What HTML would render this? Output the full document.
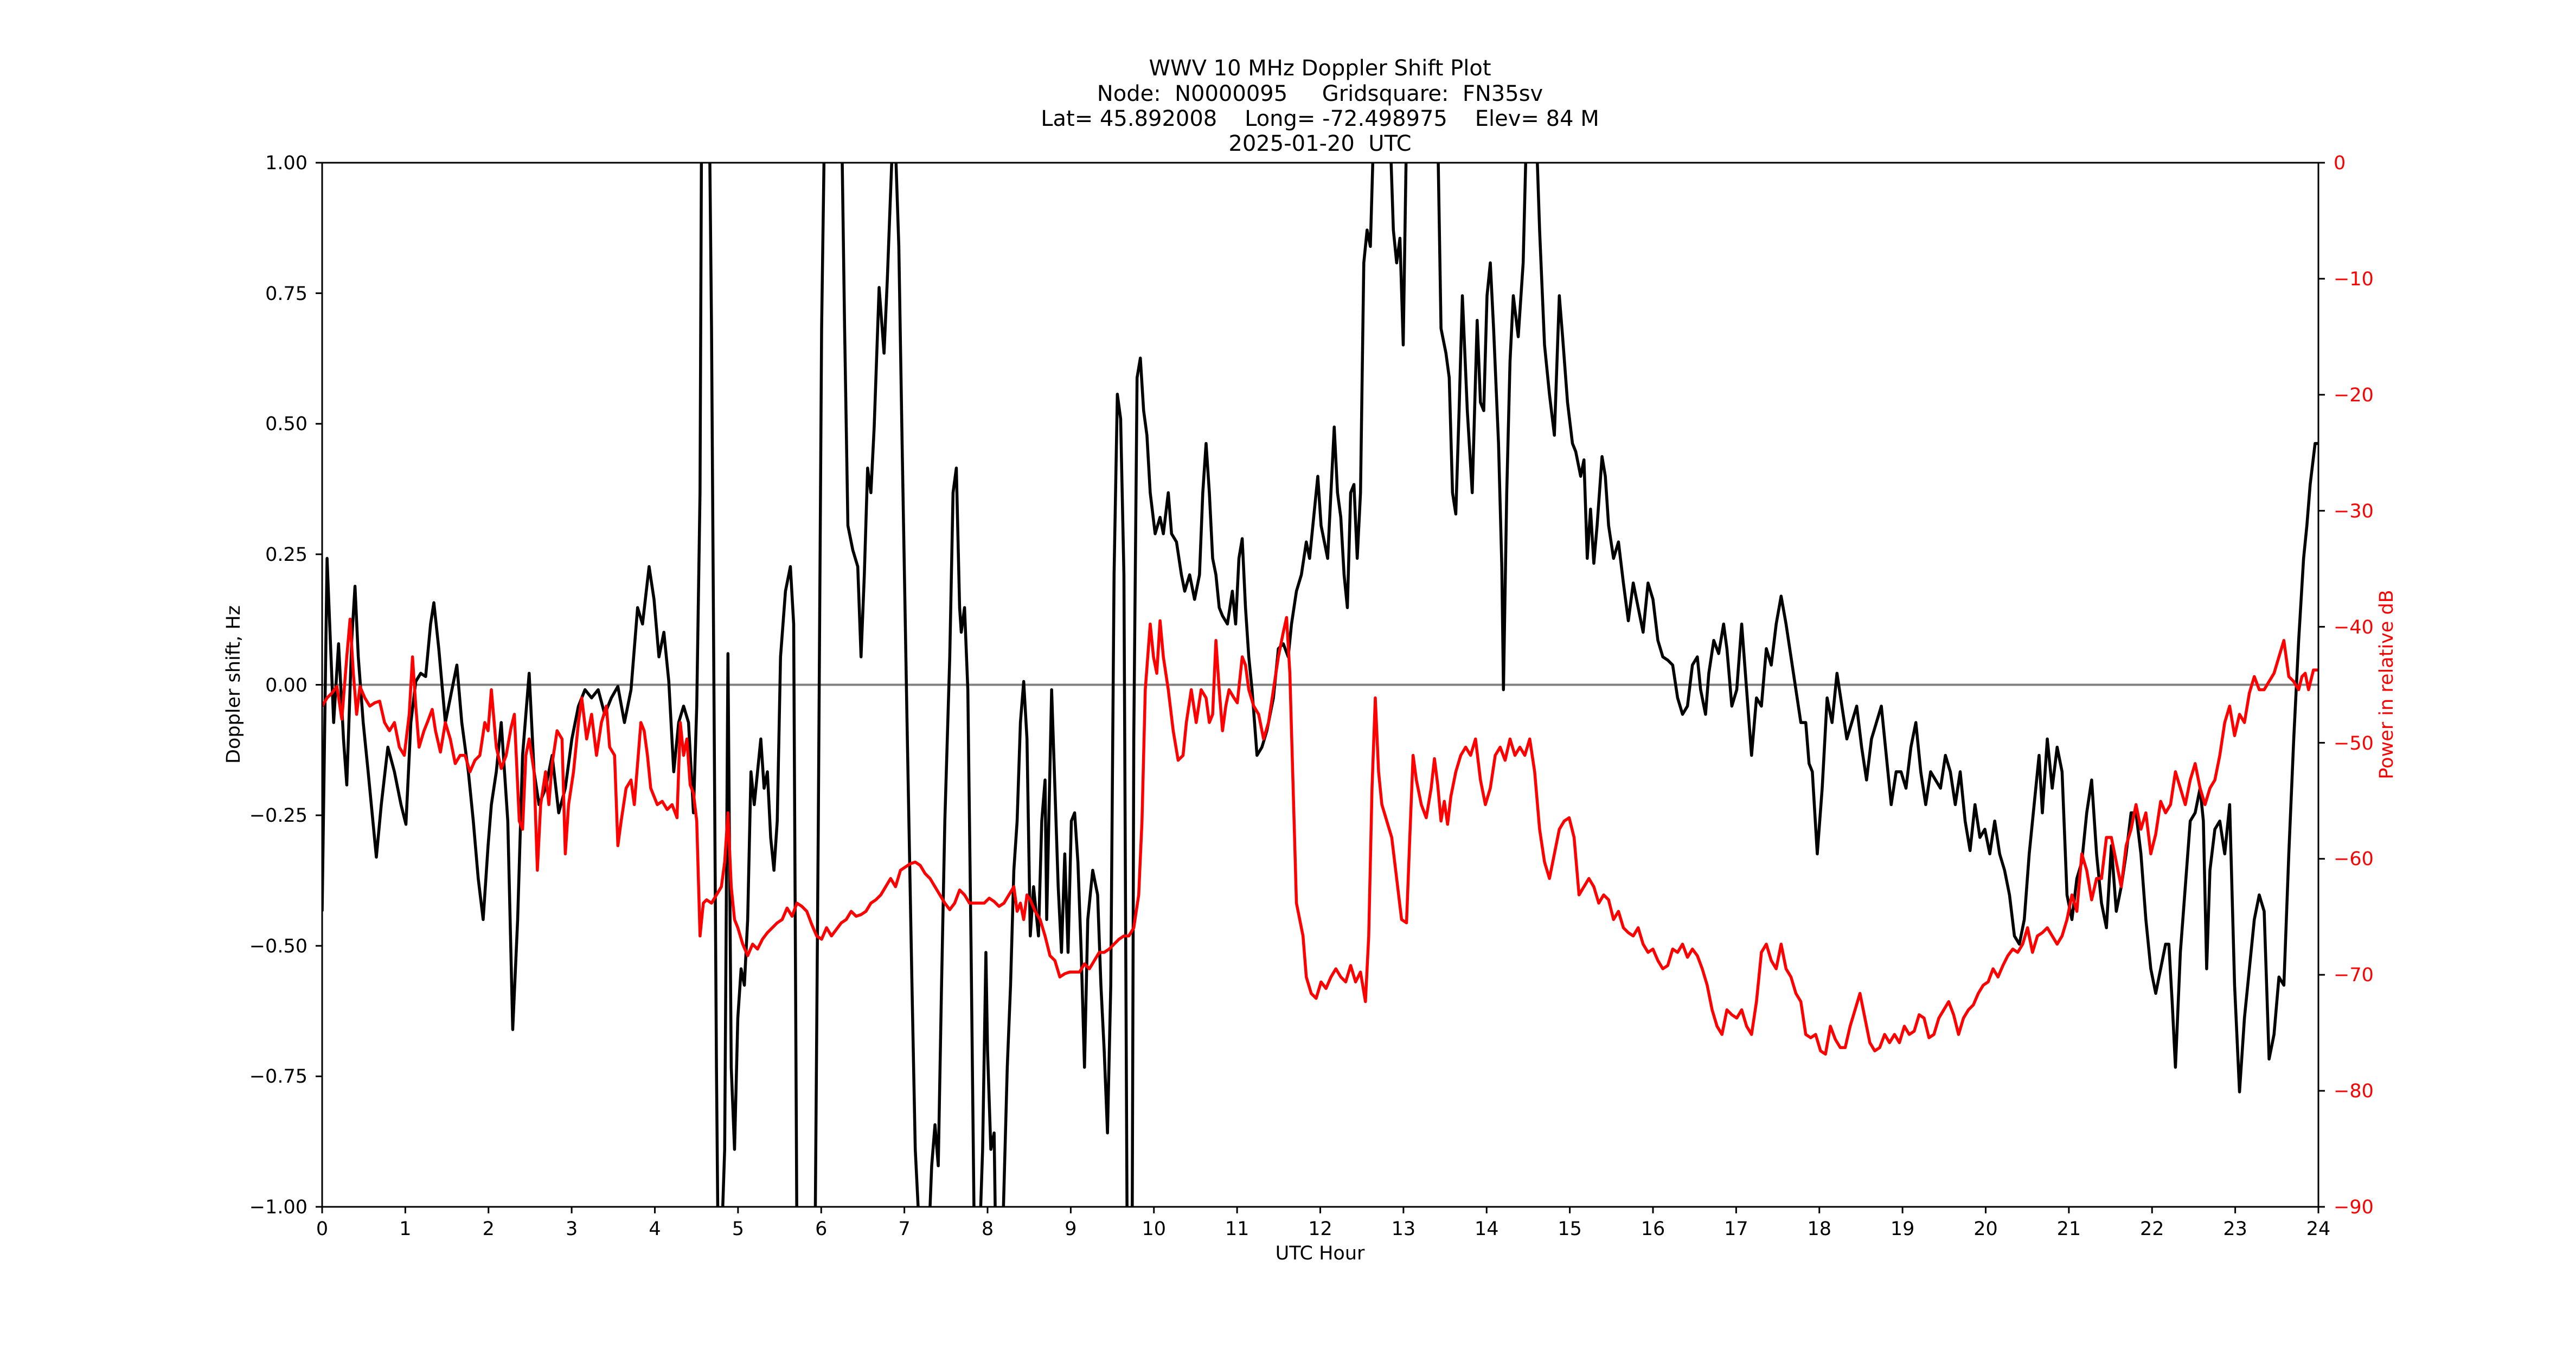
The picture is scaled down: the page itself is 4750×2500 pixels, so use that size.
<!DOCTYPE html>
<html><head><meta charset="utf-8"><style>
html,body{margin:0;padding:0;background:#fff;}
svg{display:block;font-family:"DejaVu Sans","Liberation Sans",sans-serif;}
.pre text{white-space:pre;}
</style></head><body>
<svg width="4750" height="2500" viewBox="0 0 4750 2500" xmlns="http://www.w3.org/2000/svg">
<rect width="4750" height="2500" fill="#fff"/>
<defs><clipPath id="c"><rect x="196" y="99" width="1215" height="636"/></clipPath></defs>
<line x1="594" y1="1262.5" x2="4275" y2="1262.5" stroke="#808080" stroke-width="4"/>
<g transform="translate(594,300) scale(3.0296,3.0267) translate(-196,-99)" clip-path="url(#c)" fill="none" stroke-linejoin="round">
<polyline stroke="#000" stroke-width="5.5" vector-effect="non-scaling-stroke" points="196,555 199,340 203,440 206,392 209,450 211,478 214,390 216,357 218,400 221,440 224,470 229,522 232,490 236,455 240,470 244,490 247,502 250,440 253,415 256,410 259,412 262,380 264,367 267,395 271,440 275,420 278,405 281,440 285,470 288,500 291,535 294,560 297,515 299,490 302,470 305,440 309,500 312,627 315,560 318,460 322,410 325,470 328,490 332,480 336,460 340,495 344,480 348,450 352,430 356,420 360,425 364,420 368,435 372,425 376,418 380,440 384,420 388,370 391,380 395,345 398,365 401,400 404,385 407,415 410,470 413,440 416,430 419,440 422,495 424,430 426,300 427,60 430,60 432,100 433,200 436,650 437,760 439,760 441,700 443,398 445,650 447,700 449,620 451,590 453,600 455,560 457,470 459,490 461,470 463,450 465,480 467,470 469,510 471,530 473,500 475,400 478,360 481,345 483,380 485,760 496,760 498,500 500,200 502,60 512,60 514,200 516,320 519,335 522,345 524,400 526,350 528,285 530,300 532,260 535,175 538,215 540,170 543,90 545,90 547,150 549,270 552,440 555,600 557,700 560,760 565,760 567,710 569,685 571,710 573,600 575,500 578,400 580,300 582,285 584,370 585,385 587,370 589,420 591,580 593,760 596,760 598,700 600,580 601,640 603,700 605,690 606,760 610,760 613,650 615,600 617,530 619,500 621,440 623,415 625,450 627,570 629,540 632,570 634,500 636,475 637,560 640,420 642,480 644,540 646,580 648,520 650,580 652,500 654,495 656,525 658,580 660,650 662,560 665,530 668,545 670,600 672,640 674,690 676,600 678,350 680,240 682,255 684,350 686,760 689,760 690,450 692,230 694,218 696,250 698,265 700,300 703,325 706,315 708,325 711,300 713,325 716,330 719,350 721,360 724,350 727,365 730,350 732,300 734,270 736,300 738,340 740,350 742,370 744,375 747,380 750,360 752,380 754,340 756,328 758,370 760,400 762,420 765,460 768,455 771,445 775,425 778,395 781,392 784,400 786,380 789,360 792,350 795,330 797,340 800,310 802,290 804,320 806,330 808,340 810,300 812,260 814,300 816,315 818,350 820,370 822,300 824,295 826,340 828,300 830,160 832,140 834,150 836,80 846,80 848,140 850,160 852,145 854,210 856,80 875,80 877,200 880,215 882,230 884,300 886,313 888,250 890,180 893,250 896,300 899,195 901,245 903,250 905,180 907,160 909,200 912,270 914,345 915,420 917,300 919,220 921,180 924,205 927,160 929,80 935,80 937,140 940,210 943,240 946,265 949,180 951,205 954,245 957,270 959,275 962,290 964,280 966,340 968,310 970,343 972,320 975,278 977,290 979,320 982,340 985,330 988,355 991,378 994,355 997,370 1000,385 1003,355 1006,365 1009,390 1012,400 1015,402 1018,405 1021,425 1024,435 1027,430 1030,405 1033,400 1035,420 1038,435 1040,410 1043,390 1046,398 1049,380 1051,395 1054,430 1057,420 1060,380 1063,420 1066,460 1069,425 1072,430 1075,395 1078,405 1081,380 1084,363 1087,380 1090,400 1093,420 1096,440 1099,440 1101,465 1103,470 1106,520 1109,480 1112,425 1115,440 1118,410 1121,430 1124,450 1127,440 1130,430 1133,455 1136,475 1139,450 1142,440 1145,430 1148,460 1151,490 1154,470 1157,470 1160,480 1163,455 1166,440 1169,470 1172,490 1175,470 1178,475 1181,480 1184,460 1187,470 1190,490 1193,470 1196,500 1199,518 1202,490 1205,510 1208,505 1211,520 1214,500 1217,520 1220,530 1223,545 1226,570 1229,575 1232,560 1235,520 1238,490 1241,460 1243,495 1246,450 1249,480 1252,455 1255,470 1258,545 1261,560 1264,535 1267,525 1270,495 1273,475 1276,520 1279,550 1282,565 1285,515 1288,555 1291,540 1294,520 1297,495 1300,495 1303,520 1306,560 1309,590 1312,605 1315,590 1318,575 1320,575 1322,610 1324,650 1327,580 1330,540 1333,500 1336,495 1339,480 1341,500 1343,590 1345,530 1348,505 1351,500 1354,520 1357,490 1360,600 1363,665 1366,620 1369,590 1372,560 1375,545 1378,555 1381,645 1384,630 1387,595 1390,600 1393,520 1396,450 1399,390 1402,340 1404,320 1406,295 1409,270 1411,270"/>
<polyline stroke="#f00" stroke-width="5.5" vector-effect="non-scaling-stroke" points="196,430 199,425 202,422 205,418 208,438 211,400 213,377 215,410 217,435 219,418 222,425 225,430 228,428 231,427 234,440 237,445 240,440 243,455 246,460 249,435 251,400 253,430 255,455 258,445 260,440 263,432 265,445 268,458 271,440 274,450 277,465 280,460 283,460 286,470 289,463 292,460 295,440 297,445 299,420 302,455 305,468 308,460 311,443 313,435 316,500 318,505 320,460 322,450 325,470 327,530 329,490 332,470 334,490 336,465 339,445 342,450 344,520 346,490 349,470 352,440 354,425 357,450 360,435 363,460 366,440 369,430 371,455 374,460 376,515 378,500 381,480 384,475 386,490 388,465 390,440 392,445 394,460 396,480 398,485 400,490 403,488 406,493 409,490 412,498 414,440 416,460 418,450 420,478 422,483 424,500 426,570 428,550 430,548 433,550 436,545 439,540 441,525 443,495 445,540 447,560 449,565 452,575 455,582 458,575 461,578 464,572 467,568 470,565 473,562 476,560 479,553 482,558 485,550 488,552 491,555 494,563 497,570 500,572 503,565 506,570 509,566 512,562 515,560 518,555 521,558 524,557 527,555 530,550 533,548 536,545 539,540 542,535 545,540 548,530 551,528 554,526 557,525 560,527 563,532 566,535 569,540 572,545 575,550 578,554 581,550 584,542 587,545 590,550 593,550 596,550 599,550 602,547 605,549 608,552 611,550 614,545 617,540 619,555 621,550 623,560 625,545 627,548 630,555 633,560 636,570 639,582 642,585 645,595 648,593 651,592 654,592 657,592 660,587 663,590 666,585 669,580 672,580 675,578 678,575 681,572 684,570 687,570 690,565 693,545 695,500 697,420 700,380 702,400 704,410 706,378 708,400 711,420 714,445 717,463 720,460 722,440 725,420 728,440 731,420 734,425 736,440 738,435 740,390 742,420 744,445 746,430 748,420 751,425 753,428 756,400 758,405 760,420 763,430 766,435 769,450 772,440 775,420 778,400 781,385 783,376 785,410 787,480 789,550 791,560 793,570 795,595 798,605 801,608 804,598 807,602 810,595 813,590 816,595 819,598 822,588 825,598 828,592 831,610 833,570 835,480 837,425 839,470 841,490 844,500 847,510 850,535 853,560 856,562 858,510 860,460 862,475 865,490 868,498 871,480 873,462 875,478 877,500 879,488 881,502 883,485 886,470 889,460 892,455 895,460 898,450 901,475 904,490 907,480 910,460 913,455 916,463 919,450 922,460 925,455 928,460 931,450 934,470 937,505 940,525 943,535 946,520 949,505 952,500 955,498 958,510 961,545 964,540 967,535 970,540 973,550 976,545 979,548 982,560 985,555 988,565 991,568 994,570 997,565 1000,575 1003,580 1006,578 1009,585 1012,590 1015,588 1018,578 1021,580 1024,575 1027,583 1030,578 1033,582 1036,590 1039,600 1042,615 1045,625 1048,630 1051,615 1054,618 1057,620 1060,615 1063,625 1066,630 1069,610 1072,580 1075,575 1078,585 1081,590 1084,575 1087,590 1090,595 1093,605 1096,610 1099,630 1102,632 1105,630 1108,640 1111,642 1114,625 1117,633 1120,638 1123,638 1126,625 1129,615 1132,605 1135,620 1138,635 1141,640 1144,638 1147,630 1150,635 1153,630 1156,635 1159,625 1162,630 1165,628 1168,618 1171,620 1174,632 1177,630 1180,620 1183,615 1186,610 1189,618 1192,630 1195,620 1198,615 1201,612 1204,605 1207,600 1210,598 1213,590 1216,595 1219,588 1222,582 1225,578 1228,580 1231,575 1234,565 1237,580 1240,570 1243,568 1246,565 1249,570 1252,575 1255,570 1258,560 1261,545 1264,555 1267,520 1270,530 1273,548 1276,535 1279,535 1282,510 1285,510 1288,525 1291,540 1294,515 1297,505 1300,490 1303,505 1306,495 1309,520 1312,508 1315,488 1318,495 1321,490 1324,470 1327,480 1330,490 1333,475 1336,465 1339,480 1342,490 1345,480 1348,475 1351,460 1354,440 1357,430 1360,448 1363,435 1366,440 1369,422 1372,412 1375,420 1378,420 1381,415 1384,410 1387,400 1390,390 1393,412 1396,415 1399,420 1401,412 1403,410 1405,420 1408,408 1411,408"/>
</g>
<rect x="594" y="300" width="3681" height="1925" fill="none" stroke="#000" stroke-width="3"/>
<g stroke="#000" stroke-width="3">
<line x1="582" y1="300" x2="594" y2="300"/><line x1="582" y1="540.6" x2="594" y2="540.6"/><line x1="582" y1="781.3" x2="594" y2="781.3"/><line x1="582" y1="1021.9" x2="594" y2="1021.9"/><line x1="582" y1="1262.5" x2="594" y2="1262.5"/><line x1="582" y1="1503.1" x2="594" y2="1503.1"/><line x1="582" y1="1743.8" x2="594" y2="1743.8"/><line x1="582" y1="1984.4" x2="594" y2="1984.4"/><line x1="582" y1="2225" x2="594" y2="2225"/>
<line x1="4275" y1="300" x2="4287" y2="300"/><line x1="4275" y1="513.9" x2="4287" y2="513.9"/><line x1="4275" y1="727.8" x2="4287" y2="727.8"/><line x1="4275" y1="941.7" x2="4287" y2="941.7"/><line x1="4275" y1="1155.6" x2="4287" y2="1155.6"/><line x1="4275" y1="1369.4" x2="4287" y2="1369.4"/><line x1="4275" y1="1583.3" x2="4287" y2="1583.3"/><line x1="4275" y1="1797.2" x2="4287" y2="1797.2"/><line x1="4275" y1="2011.1" x2="4287" y2="2011.1"/><line x1="4275" y1="2225" x2="4287" y2="2225"/>
</g>
<g stroke="#000" stroke-width="3" id="xt"></g>
<g font-size="35" fill="#000" text-anchor="end">
<text x="567" y="312">1.00</text><text x="567" y="553">0.75</text><text x="567" y="793">0.50</text><text x="567" y="1034">0.25</text><text x="567" y="1275">0.00</text><text x="567" y="1515">−0.25</text><text x="567" y="1756">−0.50</text><text x="567" y="1996">−0.75</text><text x="567" y="2237">−1.00</text>
</g>
<g font-size="35" fill="#f00" text-anchor="start">
<text x="4303" y="312">0</text><text x="4303" y="526">−10</text><text x="4303" y="740">−20</text><text x="4303" y="954">−30</text><text x="4303" y="1168">−40</text><text x="4303" y="1382">−50</text><text x="4303" y="1595">−60</text><text x="4303" y="1809">−70</text><text x="4303" y="2023">−80</text><text x="4303" y="2237">−90</text>
</g>
<g font-size="35" fill="#000" text-anchor="middle" id="xl"></g>
<text x="2434" y="2322" font-size="35" text-anchor="middle">UTC Hour</text>
<text transform="translate(442,1262) rotate(-90)" font-size="35" text-anchor="middle">Doppler shift, Hz</text>
<text transform="translate(4412,1262) rotate(-90)" font-size="35" text-anchor="middle" fill="#f00">Power in relative dB</text>
<g class="pre" font-size="40" text-anchor="middle">
<text x="2434" y="139">WWV 10 MHz Doppler Shift Plot</text>
<text x="2434" y="186">Node:  N0000095     Gridsquare:  FN35sv</text>
<text x="2434" y="232">Lat= 45.892008    Long= -72.498975    Elev= 84 M</text>
<text x="2434" y="278">2025-01-20  UTC</text>
</g>
<script>
var xt=document.getElementById('xt'),xl=document.getElementById('xl'),ns='http://www.w3.org/2000/svg';
for(var i=0;i<=24;i++){var x=594+i*3681/24;
var l=document.createElementNS(ns,'line');l.setAttribute('x1',x);l.setAttribute('x2',x);l.setAttribute('y1',2225);l.setAttribute('y2',2237);xt.appendChild(l);
var t=document.createElementNS(ns,'text');t.setAttribute('x',x);t.setAttribute('y',2277);t.textContent=i;xl.appendChild(t);}
</script>
</svg>
</body></html>
